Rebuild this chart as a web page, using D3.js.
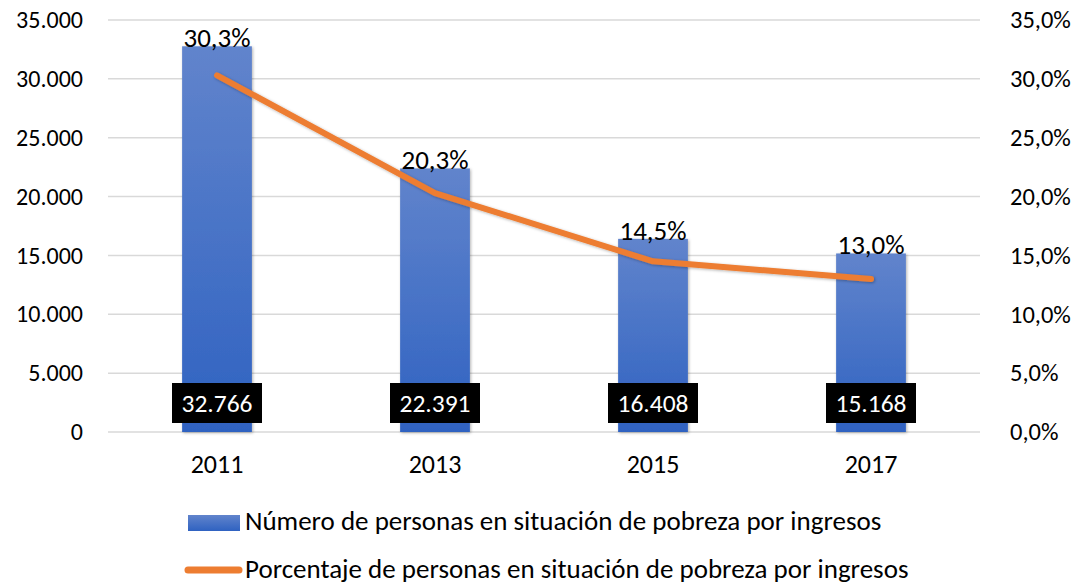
<!DOCTYPE html>
<html>
<head>
<meta charset="utf-8">
<script src="https://cdn.jsdelivr.net/npm/d3@7"></script>
<style>
  body { margin: 0; background: #fff; }
  text { font-family: Carlito, Lato, "Open Sans", sans-serif; fill: #000; }
</style>
</head>
<body>
<div class="chart"></div>
<script>
// Poverty by income: number of people (bars) and percentage (line)

var years = ["2011", "2013", "2015", "2017"];
var personas = [32766, 22391, 16408, 15168];
var porcentaje = [30.3, 20.3, 14.5, 13.0];
var leftTicks = [0, 5000, 10000, 15000, 20000, 25000, 30000, 35000];
var rightTicks = [0, 5, 10, 15, 20, 25, 30, 35];
var legendLabels = [
  "Número de personas en situación de pobreza por ingresos",
  "Porcentaje de personas en situación de pobreza por ingresos"
];

var svgWidth = 1078;
var svgHeight = 585;
var margin = { top: 20, right: 98, bottom: 153, left: 108 };
var width = svgWidth - margin.left - margin.right;
var height = svgHeight - margin.top - margin.bottom;

var svg = d3.select(".chart")
  .append("svg")
  .attr("width", svgWidth)
  .attr("height", svgHeight);

var defs = svg.append("defs");
var grad = defs.append("linearGradient")
  .attr("id", "barGrad")
  .attr("x1", 0).attr("y1", 0).attr("x2", 0).attr("y2", 1);
grad.append("stop").attr("offset", "0%").attr("stop-color", "#6184cc");
grad.append("stop").attr("offset", "100%").attr("stop-color", "#2f62c1");

var shadow = defs.append("filter").attr("id", "shadow")
  .attr("x", "-20%").attr("y", "-20%").attr("width", "140%").attr("height", "140%");
shadow.append("feDropShadow")
  .attr("dx", 1).attr("dy", 1).attr("stdDeviation", 1.5)
  .attr("flood-color", "#000").attr("flood-opacity", 0.3);

var chart = svg.append("g")
  .attr("transform", "translate(" + margin.left + "," + margin.top + ")");

// scales
var x = d3.scaleBand().domain(years).range([0, width]).paddingInner(0.68).paddingOuter(0.34);
var yLeft = d3.scaleLinear().domain([0, 35000]).range([height, 0]);
var yRight = d3.scaleLinear().domain([0, 35]).range([height, 0]);

var fmtNum = function(d) { return d3.format(",")(d).replace(/,/g, "."); };
var fmtPct = function(d) { return d3.format(".1f")(d).replace(".", ",") + "%"; };

// gridlines
chart.append("g")
  .selectAll("line")
  .data(leftTicks)
  .enter().append("line")
    .attr("x1", 0)
    .attr("x2", width)
    .attr("y1", function(d) { return yLeft(d); })
    .attr("y2", function(d) { return yLeft(d); })
    .attr("stroke", "#d9d9d9")
    .attr("stroke-width", 1.5);

// left axis
var leftAxis = d3.axisLeft(yLeft).tickValues(leftTicks).tickSize(0).tickPadding(25).tickFormat(fmtNum);
var gl = chart.append("g").call(leftAxis);
gl.select(".domain").remove();
gl.selectAll("text").attr("font-size", "24px").attr("font-family", null);

// right axis
var rightAxis = d3.axisRight(yRight).tickValues(rightTicks).tickSize(0).tickPadding(30).tickFormat(fmtPct);
var gr = chart.append("g").attr("transform", "translate(" + width + ",0)").call(rightAxis);
gr.select(".domain").remove();
gr.selectAll("text").attr("font-size", "24.5px").attr("font-family", null);

// bottom axis
var bottomAxis = d3.axisBottom(x).tickSize(0);
var gb = chart.append("g").attr("transform", "translate(0," + height + ")").call(bottomAxis);
gb.select(".domain").remove();
gb.selectAll("text").attr("font-size", "26px").attr("y", 41).attr("dy", 0);

// bars
chart.selectAll(".bar")
  .data(personas)
  .enter().append("rect")
    .attr("class", "bar")
    .attr("x", function(d, i) { return x(years[i]); })
    .attr("y", function(d) { return yLeft(d); })
    .attr("width", x.bandwidth())
    .attr("height", function(d) { return height - yLeft(d); })
    .attr("fill", "url(#barGrad)")
    .attr("filter", "url(#shadow)");

// line
var line = d3.line()
  .x(function(d, i) { return x(years[i]) + x.bandwidth() / 2; })
  .y(function(d) { return yRight(d); });

chart.append("path")
  .datum(porcentaje)
  .attr("d", line)
  .attr("fill", "none")
  .attr("stroke", "#ed7d31")
  .attr("stroke-width", 6)
  .attr("stroke-linecap", "round")
  .attr("stroke-linejoin", "round")
  .attr("filter", "url(#shadow)");

// percent labels sit on top of the bars
chart.selectAll(".pctLabel")
  .data(porcentaje)
  .enter().append("text")
    .attr("class", "pctLabel")
    .attr("x", function(d, i) { return x(years[i]) + x.bandwidth() / 2; })
    .attr("y", function(d, i) { return yLeft(personas[i]) + 1; })
    .attr("text-anchor", "middle")
    .attr("font-size", "27px")
    .text(fmtPct);

// value labels in black boxes
var vl = chart.selectAll(".valLabel")
  .data(personas)
  .enter().append("g")
    .attr("class", "valLabel")
    .attr("transform", function(d, i) {
      return "translate(" + (x(years[i]) + x.bandwidth() / 2) + "," + (height - 29) + ")";
    });
vl.append("rect")
  .attr("x", -45).attr("y", -20)
  .attr("width", 90).attr("height", 40)
  .attr("fill", "#000");
vl.append("text")
  .attr("text-anchor", "middle")
  .attr("dy", "0.35em")
  .attr("font-size", "25.5px")
  .style("fill", "#fff")
  .text(fmtNum);

// legend
var legend = svg.append("g");
legend.append("rect")
  .attr("x", 188).attr("y", 515)
  .attr("width", 52).attr("height", 16)
  .attr("fill", "url(#barGrad)");
legend.append("text")
  .attr("x", 245).attr("y", 530)
  .attr("font-size", "27px")
  .text(legendLabels[0]);
legend.append("line")
  .attr("x1", 188).attr("x2", 239)
  .attr("y1", 570).attr("y2", 570)
  .attr("stroke", "#ed7d31")
  .attr("stroke-width", 7)
  .attr("stroke-linecap", "round");
legend.append("text")
  .attr("x", 245).attr("y", 578)
  .attr("font-size", "27px")
  .text(legendLabels[1]);
</script>
</body>
</html>
